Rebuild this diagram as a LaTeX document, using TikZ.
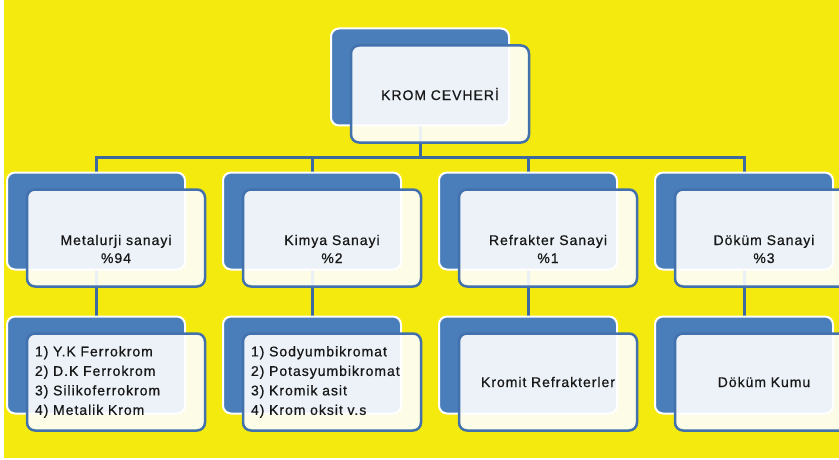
\documentclass[tikz,border=0pt]{standalone}
\usepackage{fontspec}
\setmainfont[LetterSpace=7,FakeBold=0.7]{Liberation Sans}

\definecolor{bgyellow}{RGB}{244,234,14}
\definecolor{boxblue}{RGB}{74,126,187}
\definecolor{rimblue}{RGB}{66,113,172}
\definecolor{linkblue}{RGB}{60,105,160}
\definecolor{inkgray}{RGB}{24,24,24}

\pgfdeclarelayer{ground}
\pgfdeclarelayer{links}
\pgfsetlayers{ground,links,main}

\tikzset{
	backbox/.style={rectangle,rounded corners=8pt,fill=boxblue,draw=white,line width=2pt,
		minimum width=178pt,minimum height=97pt},
	frontbox/.style={rectangle,rounded corners=8pt,fill=white,fill opacity=0.9,text opacity=1,
		draw=rimblue,line width=2.5pt,minimum width=178pt,minimum height=97pt,
		text width=162pt,inner xsep=8pt,align=center,text=inkgray,
		font=\fontsize{14}{19.5}\selectfont},
	listbox/.style={frontbox,align=left},
	sector/.style={align=center,text=inkgray,font=\fontsize{14}{18}\selectfont},
	link/.style={draw=linkblue,line width=3pt}
}

\begin{document}
\begin{tikzpicture}[x=1pt,y=-1pt]
	\useasboundingbox (0,0) rectangle (839,460);
	\clip (0,0) rectangle (839,460);
	\begin{pgfonlayer}{ground}
		\fill[white] (0,0) rectangle (839,460);
		\fill[bgyellow] (4,0) rectangle (839,458);
	\end{pgfonlayer}

	% back boxes
	\node[backbox] (top) at (420,77) {};
	\node[backbox] (m1) at (96,221) {};
	\node[backbox] (m2) at (312,221) {};
	\node[backbox] (m3) at (528,221) {};
	\node[backbox] (m4) at (744,221) {};
	\node[backbox] (l1) at (96,365) {};
	\node[backbox] (l2) at (312,365) {};
	\node[backbox] (l3) at (528,365) {};
	\node[backbox] (l4) at (744,365) {};

	% front boxes
	\node[frontbox] (topf) at (440,94) {KROM CEVHER\.I};
	\node[frontbox] (m1f) at (116,238) {};
	\node[frontbox] (m2f) at (332,238) {};
	\node[frontbox] (m3f) at (548,238) {};
	\node[frontbox] (m4f) at (764,238) {};
	\node[listbox] (l1f) at (116,382) {1) Y.K Ferrokrom\\2) D.K Ferrokrom\\3) Silikoferrokrom\\4) Metalik Krom};
	\node[listbox] (l2f) at (332,382) {1) Sodyumbikromat\\2) Potasyumbikromat\\3) Kromik asit\\4) Krom oksit v.s};
	\node[frontbox] (l3f) at (548,382) {Kromit Refrakterler};
	\node[frontbox] (l4f) at (764,382) {Döküm Kumu};

	% sector texts
	\node[sector] (s1) at (116,249) {Metalurji sanayi\\\%94};
	\node[sector] (s2) at (332,249) {Kimya Sanayi\\\%2};
	\node[sector] (s3) at (548,249) {Refrakter Sanayi\\\%1};
	\node[sector] (s4) at (764,249) {Döküm Sanayi\\\%3};

	% connectors
	\begin{pgfonlayer}{links}
		\coordinate (bus) at (420,157);
		\draw[link] (top.center) -- (bus);
		\draw[link] (bus) -| (m1.center);
		\draw[link] (bus) -| (m2.center);
		\draw[link] (bus) -| (m3.center);
		\draw[link] (bus) -| (m4.center);
		\draw[link] (m1.center) -- (l1.center);
		\draw[link] (m2.center) -- (l2.center);
		\draw[link] (m3.center) -- (l3.center);
		\draw[link] (m4.center) -- (l4.center);
	\end{pgfonlayer}
\end{tikzpicture}
\end{document}
